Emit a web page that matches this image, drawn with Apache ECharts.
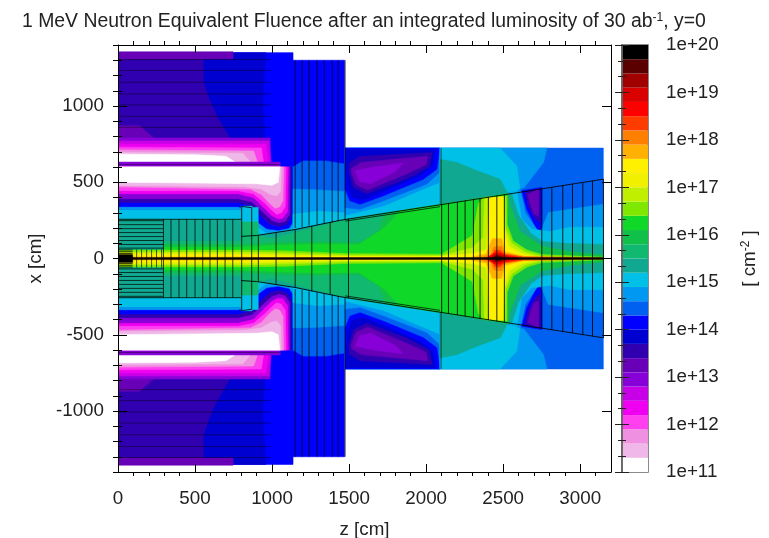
<!DOCTYPE html>
<html><head><meta charset="utf-8">
<style>html,body{margin:0;padding:0;background:#fff}#c{width:769px;height:538px;filter:blur(0.55px)}</style>
<script src="https://cdn.jsdelivr.net/npm/echarts@6/dist/echarts.min.js"></script>
</head><body><div id="c"></div>
<script>
// Colour bands, bottom (1e+11) to top (1e+20): 30 bands of 0.3 decade
const bandColors = ['#ffffff','#f0b8e8','#f090e0','#ff40f0','#f000f0','#c800e8','#8800d8','#6800b8','#3000b0','#0000d0',
  '#0000ff','#0060f0','#0098f0','#00c0e8','#10a890','#10b870','#10c048','#10d828','#80e800','#c0f000',
  '#f0f000','#fff000','#ffb000','#ff8000','#ff3c00','#ff0000','#d80000','#a00000','#5a0000','#000000'];
const colorBarMin = 11, colorBarMax = 20, bandWidth = 0.3;
const majorYTicks = [-1000,-500,0,500,1000];

// Filled fluence contours: [log10 fluence, [z, |x|, z, |x|, ...]] (cm), painted in order, mirrored in x
const envelope = [
  [14.15,[0,1350,1136,1350,1136,0,0,0]],
  [14.15,[1136,1300,1470,1300,1470,0,1136,0]]
];
const outerShield = [
  [13.85,[0,1350,960,1350,945,1150,940,1000,950,850,960,700,0,700]],
  [13.55,[0,1310,553,1310,553,1158,590,1050,640,937,690,850,727,785,0,785]],
  [13.25,[0,1355,747,1355,747,1309,0,1309]],
  [13.25,[0,870,140,870,230,790,0,785]]
];
const upperBlob = [
  [12.95,[0,790,987,790,995,632,0,632]],
  [12.65,[0,770,980,770,990,632,0,632]],
  [12.35,[0,750,960,750,975,632,0,632]],
  [12.05,[0,730,930,725,945,632,0,632]],
  [11.75,[0,712,880,705,905,632,0,632]],
  [11.45,[0,695,810,690,860,632,0,632]],
  [11.15,[0,684,500,680,700,670,760,632,0,632]],
  [12.95,[0,632,1052,632,1052,600,0,600]]
];
const lowerBlob = [
  [15.05,[0,322,780,322,1136,322,1136,150,0,150]],
  [14.75,[0,600,1136,600,1136,215,1110,180,1040,160,960,170,900,215,840,300,780,325,0,325]],
  [14.15,[0,600,1136,600,1136,240,1110,200,1040,185,965,195,905,240,840,320,780,340,0,340]],
  [13.55,[0,600,1125,600,1125,270,1095,225,1045,210,985,225,925,280,860,345,780,368,0,368]],
  [12.95,[0,600,1115,600,1115,290,1085,245,1045,235,1000,250,945,300,870,370,780,392,0,392]],
  [12.35,[0,600,1105,600,1100,310,1070,265,1040,260,1000,280,950,330,880,400,780,425,0,425]],
  [12.05,[0,600,1090,600,1085,340,1060,300,1030,290,995,320,950,365,880,425,780,445,0,445]],
  [11.75,[0,600,1075,600,1070,380,1050,340,1020,330,985,360,930,420,860,455,0,470]],
  [11.45,[0,600,1060,600,1055,440,1030,410,990,420,930,455,820,470,0,480]],
  [11.15,[0,600,1050,600,1040,500,1000,480,900,490,500,495,0,500]]
];
const vessel = [
  [14.45,[1136,600,1200,640,1350,640,1470,620,1470,257,1136,190]],
  [14.75,[1136,455,1300,450,1470,440,1470,257,1136,190]],
  [15.05,[1136,290,1300,310,1470,300,1470,257,1136,190]]
];
const endcap = [
  [15.05,[1474,724,2090,724,2090,352,1474,257]],
  [14.75,[1474,724,2090,724,2086,499,1722,345,1474,284]],
  [14.45,[1474,724,2090,724,2086,564,2004,488,1722,378,1571,323,1474,334]],
  [14.15,[1474,724,2090,724,2069,586,1982,520,1722,411,1571,356,1506,378,1474,455]],
  [13.85,[1480,715,2060,715,2040,610,1960,545,1722,440,1590,385,1520,405,1490,480]],
  [13.55,[1500,625,1571,670,2040,695,2020,600,1880,525,1614,425,1530,465,1500,560]],
  [13.25,[1515,590,1580,630,2010,670,2000,615,1860,550,1620,450,1545,485,1515,560]],
  [12.95,[1540,575,1660,600,1850,625,1800,570,1640,490,1570,505]],
  [14.45,[2090,724,3150,724,3150,515,2090,352]],
  [14.75,[2090,724,2783,724,2762,630,2653,487,2621,444,2090,352]],
  [15.05,[2090,724,2480,724,2588,608,2610,450,2090,352]],
  [15.35,[2090,651,2200,630,2330,575,2480,520,2530,425,2090,352]]
];
const coreBands = [
  [15.35,[0,257,800,257,800,342,870,342,870,160,900,151,1150,190,1474,257,2080,352,2534,425,2534,0,0,0]],
  [15.05,[800,342,870,342,870,335,910,335,910,240,800,240]],
  [15.65,[0,110,800,115,800,240,910,240,910,151,1000,130,1150,170,1474,257,2080,352,2534,425,2534,0,0,0]],
  [15.95,[0,90,800,90,1000,105,1300,110,1570,105,1690,180,1740,298,2080,352,2534,425,2534,0,0,0]],
  [16.25,[0,75,800,75,1000,85,1300,95,1560,90,1730,200,1830,312,2080,350,2400,403,2530,425,2530,0,0,0]]
];
const rearSide = [
  [14.45,[2610,455,3150,520,3150,0,2610,0]],
  [14.15,[2621,444,2751,466,2751,170,2718,192,2653,323]],
  [13.55,[2643,433,2740,459,2740,236,2708,258,2664,345]],
  [13.25,[2660,420,2730,455,2730,280,2700,290,2680,345]],
  [14.75,[2534,425,2610,455,2643,301,2718,192,2740,170,2794,301,3151,356,3151,0,2534,0]],
  [15.05,[2534,425,2588,444,2621,258,2686,192,2805,177,2935,205,3151,205,3151,0,2534,0]],
  [15.35,[2534,425,2556,422,2597,290,2680,165,2753,112,2900,100,3151,92,3151,0,2534,0]],
  [15.95,[2534,425,2534,411,2545,350,2610,177,2753,80,2935,44,3130,25,3151,25,3151,0,2534,0]]
];
const peak = [
  [16.55,[0,55,800,55,1100,50,1474,32,2100,28,2300,150,2340,360,2370,400,2525,410,2525,224,2565,114,2655,55,2753,26,3151,8,3151,0,0,0]],
  [16.85,[0,42,800,42,1100,35,1474,22,2100,18,2300,70,2370,140,2380,395,2510,405,2515,200,2555,100,2640,42,2750,14,2900,5,2900,0,0,0]],
  [17.15,[0,32,800,30,1100,22,1474,14,2100,12,2300,35,2390,60,2410,400,2500,405,2505,200,2540,80,2620,35,2700,14,2700,0,0,0]],
  [17.45,[0,22,800,20,1100,12,2000,8,2300,25,2400,50,2420,395,2495,400,2500,180,2530,70,2600,28,2680,10,2680,0,0,0]],
  [17.75,[0,10,800,9,1000,5,2280,5,2390,30,2430,130,2490,130,2510,45,2600,22,2680,6,2680,0,0,0]],
  [18.05,[2330,0,2420,25,2440,75,2490,80,2510,30,2600,14,3150,4,3150,0]],
  [18.35,[2370,0,2430,15,2445,55,2480,55,2510,28,2620,12,2620,0]],
  [18.65,[2390,0,2445,38,2480,38,2510,20,2590,8,2590,0]],
  [18.95,[2400,0,2445,28,2480,28,2540,8,2540,0]],
  [19.25,[2415,0,2445,20,2480,20,2520,5,2520,0]],
  [19.55,[2430,0,2450,14,2480,14,2500,0]]
];
const forward = [
  [15.35,[0,60,295,60,295,257,0,257]],
  [19.85,[0,25,95,25,95,0,0,0]]
];
const contours = [].concat(envelope, outerShield, upperBlob, lowerBlob, vessel, endcap, coreBands, rearSide, peak, forward);

// Detector structure lines (cm)
const outerRows = [1305,1233,1156,1079,1007,932,860];
const forwardRows = [68,92,118,144,170,196,222,248];
const innerForwardRows = [32,44,56];
const barrelColumns = [295,344,396,446,500,550,597,645,695,745];
const pixelColumns = [121,153,186,218,250,283];
const innerColumns = [[803,342],[868,333],[911,151],[1026,169],[1150,190],[1258,215],[1377,238],[1496,262]];
const vesselColumns = [[1150,1300],[1195,1300],[1240,1300],[1292,1300],[1338,1300],[1390,1300],[1429,1300],[1474,1300]];
const vesselColumnFoot = [200,205,215,222,228,236,245,257];
const trackerColumns = [2101,2145,2203,2253,2307,2350,2404,2459,2508,2751,2816,2887,2950,3017,3080,3151];
const slope = [[900,151],[1150,190],[1440,250],[2090,352],[3150,520]];

const segments = [];
outerRows.forEach(x => segments.push([0,x,990,x,0.42,1]));
segments.push([0,616,1050,616,0.4,1]);
forwardRows.forEach(x => segments.push([0,x,295,x,0.7,1]));
innerForwardRows.forEach(x => segments.push([0,x,95,x,0.8,1]));
segments.push([0,257,800,257,0.75,1]);
barrelColumns.forEach(z => segments.push([z,0,z,257,0.75,1]));
pixelColumns.forEach(z => segments.push([z,0,z,60,0.65,1]));
innerColumns.forEach(c => segments.push([c[0],0,c[0],c[1],0.8,1]));
vesselColumns.forEach((c,i) => segments.push([c[0],vesselColumnFoot[i],c[0],c[1],0.75,1]));
trackerColumns.forEach(z => segments.push([z,0,z,257+0.157*(z-1474),0.85,1]));
segments.push([2097,352,2097,724,0.6,1]);
segments.push([800,342,868,333,0.8,1],[800,145,900,151,0.85,1]);
for (let i=0;i<slope.length-1;i++) segments.push([slope[i][0],slope[i][1],slope[i+1][0],slope[i+1][1],0.85,1]);
segments.push([1474,245,2090,340,0.7,1]);
segments.push([0,0,3150,0,0.85,2]);

const bandIndex = v => Math.max(0, Math.min(bandColors.length-1, Math.floor((v-colorBarMin)/bandWidth)));

function renderContour(params, api){
  const c = contours[params.dataIndex];
  const pts = [], mir = [];
  for (let i=0;i<c[1].length;i+=2){
    pts.push(api.coord([c[1][i],c[1][i+1]]));
    mir.push(api.coord([c[1][i],-c[1][i+1]]));
  }
  const col = bandColors[bandIndex(c[0])];
  const style = {fill:col,stroke:col,lineWidth:0.6};
  return {type:'group',children:[
    {type:'polygon',shape:{points:pts},style:style},
    {type:'polygon',shape:{points:mir},style:style}
  ]};
}
function renderSegment(params, api){
  const s = segments[params.dataIndex];
  const mk = m => {
    const a = api.coord([s[0],m*s[1]]), b = api.coord([s[2],m*s[3]]);
    return {type:'line',shape:{x1:a[0],y1:a[1],x2:b[0],y2:b[1]},
      style:{stroke:'#000',opacity:s[4],lineWidth:s[5]}};
  };
  return {type:'group',children:[mk(1),mk(-1)]};
}
function renderBand(params, api){
  const i = params.dataIndex;
  const a = api.coord([0, colorBarMin+i*bandWidth]), b = api.coord([1, colorBarMin+(i+1)*bandWidth]);
  return {type:'rect',shape:{x:a[0],y:b[1],width:b[0]-a[0],height:a[1]-b[1]},style:{fill:bandColors[i]}};
}

const txt = '#222';
const mainFont = 'Liberation Sans';
const tk = {show:true,inside:true,length:8,lineStyle:{color:'#000',width:1}};
const mt = {show:true,length:-4,splitNumber:5,lineStyle:{color:'#000',width:1}};
const lbl = {color:txt,fontFamily:mainFont,fontSize:18.8};
const blackLine = {show:true,onZero:false,lineStyle:{color:'#000',width:1}};
const greyLine = {show:true,lineStyle:{color:'#666',width:1.5}};
const barTick = {show:true,inside:true,length:7,lineStyle:{color:'#222'}};
const barMinor = {show:true,length:-4,splitNumber:3,lineStyle:{color:'#222'}};

const chart = echarts.init(document.getElementById('c'),null,{renderer:'canvas'});
chart.setOption({
  animation:false,
  backgroundColor:'#fff',
  title:{
    left:17,top:7,
    text:'{a|1 MeV Neutron Equivalent Fluence after an integrated luminosity of 30 ab}{s|-1}{a|, y=0}',
    textStyle:{fontWeight:'normal',rich:{
      a:{fontFamily:mainFont,fontSize:19.4,color:txt,fontWeight:'normal'},
      s:{fontFamily:mainFont,fontSize:12,color:txt,fontWeight:'normal',padding:[0,0,8,0]}
    }}
  },
  grid:[
    {left:118,right:158,top:45,bottom:66,show:false,outerBoundsMode:'none'},
    {left:622,right:121,top:45,bottom:66,show:true,borderColor:'#666',borderWidth:1.5,backgroundColor:'transparent',outerBoundsMode:'none'}
  ],
  xAxis:[
    {gridIndex:0,type:'value',min:0,max:3200,interval:500,position:'bottom',z:10,
     axisLine:blackLine,axisTick:tk,minorTick:mt,splitLine:{show:false},
     axisLabel:Object.assign({margin:17,formatter:v=>String(v)},lbl),name:'z [cm]',nameLocation:'middle',nameGap:48,
     nameTextStyle:{color:txt,fontFamily:mainFont,fontSize:18.8}},
    {gridIndex:0,type:'value',min:0,max:3200,interval:500,position:'top',z:10,
     axisLine:blackLine,axisTick:tk,minorTick:mt,splitLine:{show:false},axisLabel:{show:false}},
    {gridIndex:1,type:'value',min:0,max:1,show:false}
  ],
  yAxis:[
    {gridIndex:0,type:'value',min:-1400,max:1400,interval:100,position:'left',z:10,
     axisLine:blackLine,
     axisTick:{show:true,inside:true,length:9,customValues:majorYTicks,lineStyle:{color:'#000'}},splitLine:{show:false},
     axisLabel:Object.assign({margin:14,padding:[6,0,0,0],formatter:v=>v%500===0?String(v):''},lbl),
     name:'x [cm]',nameLocation:'middle',nameGap:66,nameRotate:90,
     nameTextStyle:{color:txt,fontFamily:mainFont,fontSize:18.8}},
    {gridIndex:0,type:'value',min:-1400,max:1400,interval:100,position:'right',z:10,
     axisLine:blackLine,
     axisTick:{show:true,inside:true,length:9,customValues:majorYTicks,lineStyle:{color:'#000'}},splitLine:{show:false},axisLabel:{show:false}},
    {gridIndex:1,type:'value',min:colorBarMin,max:colorBarMax,interval:1,position:'right',z:10,
     axisLine:greyLine,axisTick:barTick,minorTick:barMinor,splitLine:{show:false},
     axisLabel:Object.assign({margin:18,padding:[5,0,0,0],formatter:v=>'1e+'+v},lbl),
     name:'[ cm{s|-2} ]',nameLocation:'middle',nameGap:92,nameRotate:90,
     nameTextStyle:{color:txt,fontFamily:mainFont,fontSize:18.8,
       rich:{s:{fontFamily:mainFont,fontSize:12,color:txt,padding:[0,0,8,0]}}}},
    {gridIndex:1,type:'value',min:colorBarMin,max:colorBarMax,interval:1,position:'left',z:10,
     axisLine:greyLine,axisTick:barTick,minorTick:barMinor,splitLine:{show:false},axisLabel:{show:false}},
    {gridIndex:0,type:'value',min:-1400,max:1400,interval:100,position:'left',z:10,
     axisLine:{show:false},axisTick:{show:true,inside:true,length:4,lineStyle:{color:'#000'}},splitLine:{show:false},axisLabel:{show:false}},
    {gridIndex:0,type:'value',min:-1400,max:1400,interval:100,position:'right',z:10,
     axisLine:{show:false},axisTick:{show:true,inside:true,length:5,lineStyle:{color:'#000'}},splitLine:{show:false},axisLabel:{show:false}}
  ],
  series:[
    {type:'custom',xAxisIndex:0,yAxisIndex:0,silent:true,clip:true,renderItem:renderContour,data:contours.map((c,i)=>[i,c[0]]),encode:{x:[],y:[]},z:2},
    {type:'custom',xAxisIndex:0,yAxisIndex:0,silent:true,clip:true,renderItem:renderSegment,data:segments.map((s,i)=>[i]),encode:{x:[],y:[]},z:3},
    {type:'custom',xAxisIndex:2,yAxisIndex:2,silent:true,renderItem:renderBand,data:bandColors.map((c,i)=>[i]),encode:{x:[],y:[]},z:2}
  ]
});
</script></body></html>
